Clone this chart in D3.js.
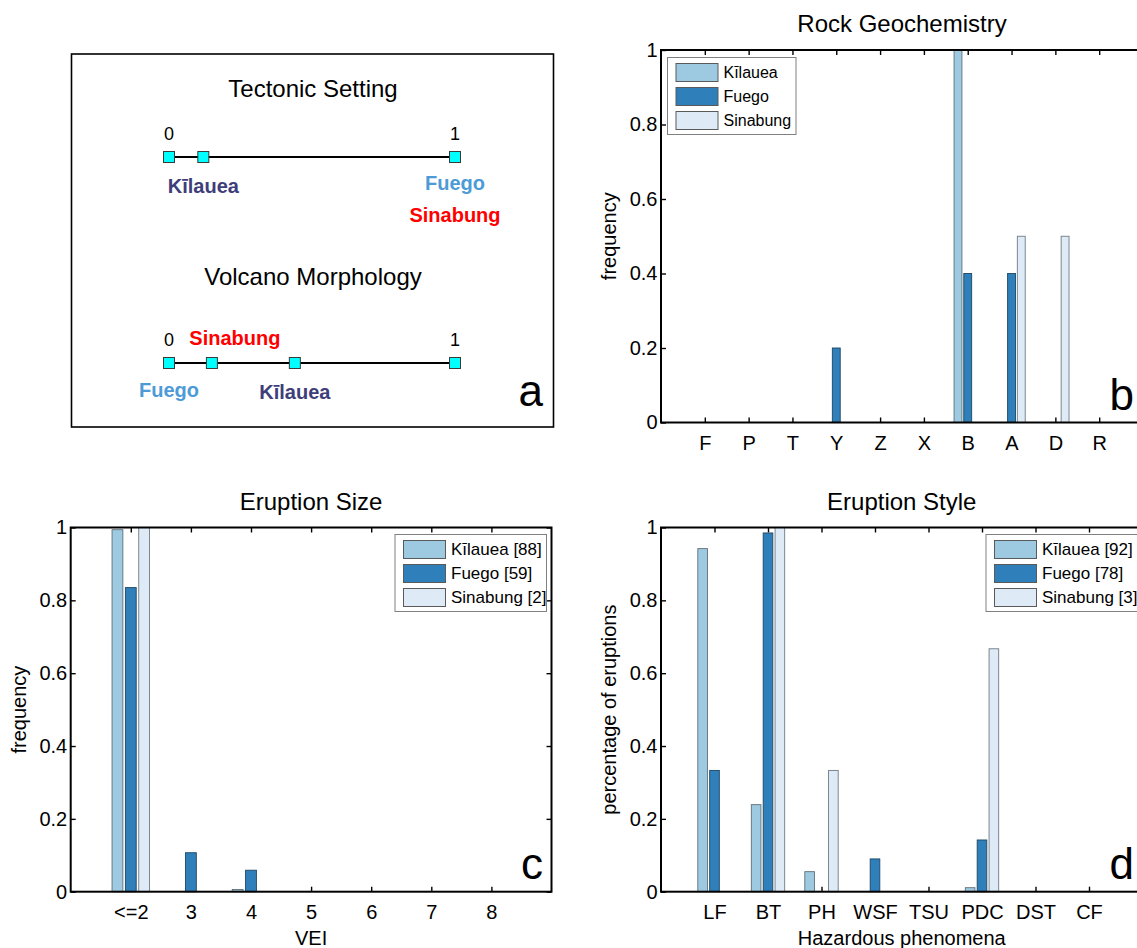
<!DOCTYPE html>
<html>
<head>
<meta charset="utf-8">
<script src="https://cdn.jsdelivr.net/npm/d3@7"></script>
<style>
  body { margin: 0; background: #fff; }
  svg { display: block; font-family: 'Liberation Sans', Arial, Helvetica, sans-serif; }
</style>
</head>
<body>
<svg id="fig" width="1137" height="948"></svg>
<script>
// volcano names, same order everywhere (legend order)
var volcanoes = ['Kīlauea', 'Fuego', 'Sinabung'];

// panel a: position on the 0-1 similarity lines (Kīlauea, Fuego, Sinabung)
var tectonicPos = [0.12, 1, 1];
var morphologyPos = [0.44, 0, 0.15];

// panel b: rock geochemistry
var rockCats = ['F', 'P', 'T', 'Y', 'Z', 'X', 'B', 'A', 'D', 'R'];
var rockKilauea = [0, 0, 0, 0, 0, 0, 1, 0, 0, 0];
var rockFuego = [0, 0, 0, 0.2, 0, 0, 0.4, 0.4, 0, 0];
var rockSinabung = [0, 0, 0, 0, 0, 0, 0, 0.5, 0.5, 0];

// panel c: eruption size
var veiCats = ['<=2', '3', '4', '5', '6', '7', '8'];
var veiKilauea = [0.994, 0, 0.006, 0, 0, 0, 0];
var veiFuego = [0.835, 0.107, 0.059, 0, 0, 0, 0];
var veiSinabung = [1, 0, 0, 0, 0, 0, 0];
var veiCounts = [88, 59, 2];

// panel d: eruption style
var styleCats = ['LF', 'BT', 'PH', 'WSF', 'TSU', 'PDC', 'DST', 'CF'];
var styleKilauea = [0.942, 0.239, 0.055, 0, 0, 0.011, 0, 0];
var styleFuego = [0.333, 0.985, 0, 0.09, 0, 0.142, 0, 0];
var styleSinabung = [0, 1, 0.333, 0, 0, 0.667, 0, 0];
var styleCounts = [92, 78, 3];

var yTicks = [0, 0.2, 0.4, 0.6, 0.8, 1];

// bar colours (blues) and the text colours used in panel a
var barFill = ['#9ecae1', '#2f7fba', '#deebf7'];
var barEdge = ['#5f6f78', '#1d4662', '#707a84'];
var nameColor = ['#3e3e7a', '#4d9bd6', '#ff0000'];

var svg = d3.select('#fig');

// ---- panel a: similarity lines ----
function add_similarity_line(svg, title, titleY, lineY, pos, labelPlace) {
  var x = d3.scaleLinear().domain([0, 1]).range([169, 455]);

  svg.append('text')
    .attr('x', 313).attr('y', titleY)
    .attr('text-anchor', 'middle')
    .style('font-size', '24px')
    .text(title);

  // end labels 0 and 1
  svg.append('g').selectAll('text')
    .data([0, 1])
    .enter().append('text')
    .attr('x', function(d) { return x(d); })
    .attr('y', lineY - 17)
    .attr('text-anchor', 'middle')
    .style('font-size', '18px')
    .text(function(d) { return d; });

  svg.append('line')
    .attr('x1', x(0)).attr('x2', x(1))
    .attr('y1', lineY).attr('y2', lineY)
    .attr('stroke', '#000').attr('stroke-width', 2);

  // markers: both ends plus every volcano (duplicates collapse)
  var marks = Array.from(new Set([0, 1].concat(pos)));
  svg.append('g').selectAll('rect')
    .data(marks)
    .enter().append('rect')
    .attr('x', function(d) { return x(d) - 5.5; })
    .attr('y', lineY - 5.5)
    .attr('width', 11).attr('height', 11)
    .attr('fill', '#00ffff')
    .attr('stroke', '#3a3a3a').attr('stroke-width', 1);

  svg.append('g').selectAll('text')
    .data(pos)
    .enter().append('text')
    .attr('x', function(d, i) { return x(d) + labelPlace[i].dx; })
    .attr('y', function(d, i) { return lineY + labelPlace[i].dy; })
    .attr('text-anchor', 'middle')
    .style('font-size', '20px')
    .style('font-weight', 'bold')
    .attr('fill', function(d, i) { return nameColor[i]; })
    .text(function(d, i) { return volcanoes[i]; });
}

function add_panel_a(svg) {
  svg.append('rect')
    .attr('x', 71.5).attr('y', 54)
    .attr('width', 482).attr('height', 373)
    .attr('fill', 'none').attr('stroke', '#000').attr('stroke-width', 1.6);

  add_similarity_line(svg, 'Tectonic Setting', 97, 157, tectonicPos,
    [{dx: 0, dy: 36}, {dx: 0, dy: 33}, {dx: 0, dy: 65}]);
  add_similarity_line(svg, 'Volcano Morphology', 285, 363, morphologyPos,
    [{dx: 0, dy: 36}, {dx: 0, dy: 34}, {dx: 23, dy: -18}]);

  svg.append('text')
    .attr('x', 543).attr('y', 406)
    .attr('text-anchor', 'end')
    .style('font-size', '44px')
    .text('a');
}

// ---- panels b, c, d: grouped bars ----
function add_bar_panel(svg, p) {
  var n = p.cats.length;
  var x = d3.scaleLinear().domain([0, n + 1]).range([p.left, p.right]);
  var y = d3.scaleLinear().domain([0, 1]).range([p.bottom, p.top]);
  var g = svg.append('g');
  var catTicks = d3.range(1, n + 1);

  // inward ticks on all four sides (drawn under the bars)
  g.append('g')
    .attr('transform', 'translate(0,' + p.bottom + ')')
    .call(d3.axisBottom(x).tickValues(catTicks).tickSize(-5).tickPadding(12.8)
      .tickFormat(function(d) { return p.cats[d - 1]; }));
  g.append('g')
    .attr('transform', 'translate(0,' + p.top + ')')
    .call(d3.axisTop(x).tickValues(catTicks).tickSize(-5).tickFormat(''));
  g.append('g')
    .attr('transform', 'translate(' + p.left + ',0)')
    .call(d3.axisLeft(y).tickValues(yTicks).tickSize(-5).tickPadding(3.5)
      .tickFormat(d3.format('~g')));
  g.append('g')
    .attr('transform', 'translate(' + p.right + ',0)')
    .call(d3.axisRight(y).tickValues(yTicks).tickSize(-5).tickFormat(''));

  g.selectAll('.domain').remove();
  g.selectAll('.tick line').attr('stroke', '#000').attr('stroke-width', 1.4);
  g.selectAll('.tick text')
    .attr('fill', '#000')
    .style('font-size', '20px')
    .style('font-family', "'Liberation Sans', Arial, sans-serif");

  // bars, matlab style grouping
  var offset = 0.222, barW = 0.18;
  [p.kil, p.fue, p.sin].forEach(function(vals, s) {
    g.append('g').selectAll('rect')
      .data(vals.map(function(v, i) { return {i: i + 1, v: v}; })
        .filter(function(d) { return d.v > 0; }))
      .enter().append('rect')
      .attr('x', function(d) { return x(d.i + (s - 1) * offset - barW / 2); })
      .attr('width', x(barW) - x(0))
      .attr('y', function(d) { return y(d.v); })
      .attr('height', function(d) { return y(0) - y(d.v); })
      .attr('fill', barFill[s])
      .attr('stroke', barEdge[s])
      .attr('stroke-width', 0.9);
  });

  // axes box on top
  g.append('rect')
    .attr('x', p.left).attr('y', p.top)
    .attr('width', p.right - p.left).attr('height', p.bottom - p.top)
    .attr('fill', 'none').attr('stroke', '#000').attr('stroke-width', 2);

  // title, labels, panel letter
  var cx = (p.left + p.right) / 2;
  g.append('text')
    .attr('x', cx).attr('y', p.top - 18)
    .attr('text-anchor', 'middle')
    .style('font-size', '24px')
    .text(p.title);
  g.append('text')
    .attr('transform', 'translate(' + (p.left - 45) + ',' + (p.top + p.bottom) / 2 + ') rotate(-90)')
    .attr('text-anchor', 'middle')
    .style('font-size', '20px')
    .text(p.ylabel);
  if (p.xlabel) {
    g.append('text')
      .attr('x', cx).attr('y', p.bottom + 53)
      .attr('text-anchor', 'middle')
      .style('font-size', '20px')
      .text(p.xlabel);
  }
  g.append('text')
    .attr('x', p.letterX).attr('y', p.bottom - 13)
    .attr('text-anchor', 'end')
    .style('font-size', '44px')
    .text(p.letter);

  add_legend(g, p.legend);
}

function add_legend(g, L) {
  var leg = g.append('g').attr('transform', 'translate(' + L.x + ',' + L.y + ')');
  leg.append('rect')
    .attr('width', L.w).attr('height', 77)
    .attr('fill', '#fff').attr('stroke', '#808080').attr('stroke-width', 1);
  var rows = leg.selectAll('g.row')
    .data(L.labels)
    .enter().append('g')
    .attr('class', 'row')
    .attr('transform', function(d, i) { return 'translate(0,' + (6 + i * 24) + ')'; });
  rows.append('rect')
    .attr('x', 8.5).attr('width', 42).attr('height', 18)
    .attr('fill', function(d, i) { return barFill[i]; })
    .attr('stroke', '#5a5a5a').attr('stroke-width', 1);
  rows.append('text')
    .attr('x', 56).attr('y', 9)
    .attr('dy', '0.35em')
    .style('font-size', L.font + 'px')
    .text(function(d) { return d; });
}

function with_counts(counts) {
  return volcanoes.map(function(v, i) { return v + ' [' + counts[i] + ']'; });
}

add_panel_a(svg);

add_bar_panel(svg, {
  cats: rockCats, kil: rockKilauea, fue: rockFuego, sin: rockSinabung,
  left: 661, right: 1143, top: 50, bottom: 422.5,
  title: 'Rock Geochemistry', ylabel: 'frequency', xlabel: null,
  letter: 'b', letterX: 1134,
  legend: {x: 667.5, y: 57.5, w: 128.5, labels: volcanoes, font: 16}
});

add_bar_panel(svg, {
  cats: veiCats, kil: veiKilauea, fue: veiFuego, sin: veiSinabung,
  left: 70.7, right: 551.5, top: 527.5, bottom: 891.7,
  title: 'Eruption Size', ylabel: 'frequency', xlabel: 'VEI',
  letter: 'c', letterX: 543,
  legend: {x: 395, y: 534.5, w: 151.5, labels: with_counts(veiCounts), font: 17}
});

add_bar_panel(svg, {
  cats: styleCats, kil: styleKilauea, fue: styleFuego, sin: styleSinabung,
  left: 661, right: 1142.5, top: 527.5, bottom: 891.7,
  title: 'Eruption Style', ylabel: 'percentage of eruptions', xlabel: 'Hazardous phenomena',
  letter: 'd', letterX: 1134,
  legend: {x: 986, y: 534.5, w: 154, labels: with_counts(styleCounts), font: 17}
});
</script>
</body>
</html>
